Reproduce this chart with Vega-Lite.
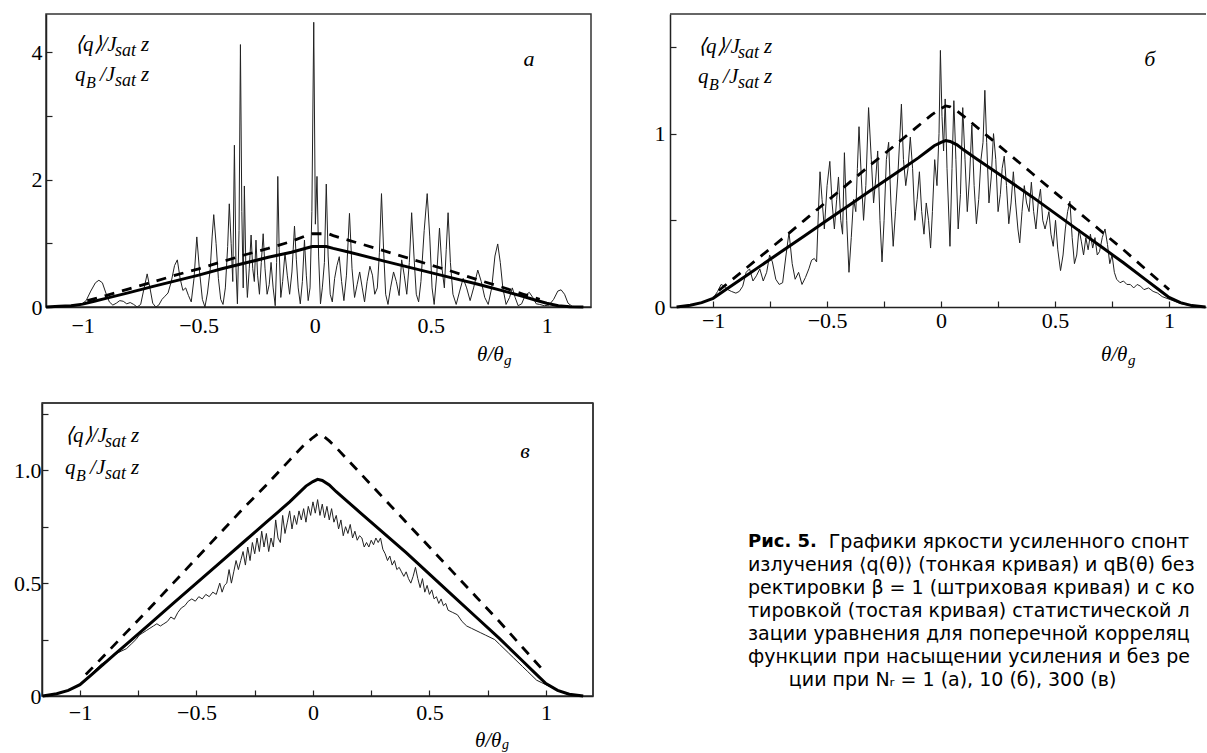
{
"$schema":"https://vega.github.io/schema/vega-lite/v6.json",
"background":"white",
"padding":{"left":0,"top":11,"right":0,"bottom":0},
"autosize":{"type":"pad"},
"config":{"view":{"stroke":null},
"axis":{"grid":false,"labelFont":"Liberation Serif","labelFontSize":22,"labelColor":"#000","domainColor":"#222","domainWidth":1.5,"tickColor":"#222","tickWidth":1.2,"labelOverlap":false,"labelFlush":false},
"text":{"font":"Liberation Serif","color":"#000"}},
"datasets":{
"one":[{}],
"a_q":[{"theta":-1.158,"val":0},{"theta":-1.1,"val":0.005},{"theta":-1.05,"val":0.01},{"theta":-1.01,"val":0.03},{"theta":-0.985,"val":0.1},{"theta":-0.965,"val":0.25},{"theta":-0.945,"val":0.38},{"theta":-0.93,"val":0.42},{"theta":-0.915,"val":0.38},{"theta":-0.9,"val":0.22},{"theta":-0.885,"val":0.08},{"theta":-0.87,"val":0.03},{"theta":-0.855,"val":0.06},{"theta":-0.84,"val":0.1},{"theta":-0.825,"val":0.09},{"theta":-0.81,"val":0.05},{"theta":-0.795,"val":0.07},{"theta":-0.78,"val":0.04},{"theta":-0.765,"val":0},{"theta":-0.75,"val":0.04},{"theta":-0.735,"val":0.3},{"theta":-0.722,"val":0.52},{"theta":-0.71,"val":0.3},{"theta":-0.698,"val":0.06},{"theta":-0.685,"val":0},{"theta":-0.672,"val":0.03},{"theta":-0.658,"val":0.12},{"theta":-0.645,"val":0.17},{"theta":-0.632,"val":0.22},{"theta":-0.618,"val":0.4},{"theta":-0.604,"val":0.65},{"theta":-0.592,"val":0.74},{"theta":-0.58,"val":0.45},{"theta":-0.568,"val":0.26},{"theta":-0.556,"val":0.3},{"theta":-0.544,"val":0.18},{"theta":-0.532,"val":0.08},{"theta":-0.52,"val":0.45},{"theta":-0.508,"val":1.1},{"theta":-0.496,"val":0.55},{"theta":-0.484,"val":0.12},{"theta":-0.473,"val":0},{"theta":-0.462,"val":0.22},{"theta":-0.45,"val":0.6},{"theta":-0.442,"val":1.1},{"theta":-0.435,"val":1.45},{"theta":-0.425,"val":1},{"theta":-0.415,"val":0.45},{"theta":-0.405,"val":0.12},{"theta":-0.395,"val":0.04},{"theta":-0.385,"val":0.3},{"theta":-0.375,"val":0.95},{"theta":-0.368,"val":1.62},{"theta":-0.36,"val":1},{"theta":-0.353,"val":0.4},{"theta":-0.346,"val":2.54},{"theta":-0.339,"val":0.6},{"theta":-0.333,"val":0.05},{"theta":-0.326,"val":1.2},{"theta":-0.32,"val":4.12},{"theta":-0.314,"val":1.5},{"theta":-0.308,"val":0.3},{"theta":-0.303,"val":1.9},{"theta":-0.297,"val":0.7},{"theta":-0.29,"val":0.15},{"theta":-0.282,"val":0.6},{"theta":-0.274,"val":1.13},{"theta":-0.267,"val":0.6},{"theta":-0.26,"val":0.4},{"theta":-0.253,"val":1.05},{"theta":-0.246,"val":0.5},{"theta":-0.238,"val":0.2},{"theta":-0.23,"val":0.7},{"theta":-0.222,"val":1.15},{"theta":-0.214,"val":0.6},{"theta":-0.205,"val":0.2},{"theta":-0.196,"val":0.35},{"theta":-0.188,"val":0.7},{"theta":-0.179,"val":0.3},{"theta":-0.17,"val":0.02},{"theta":-0.164,"val":0.7},{"theta":-0.159,"val":2.05},{"theta":-0.153,"val":0.9},{"theta":-0.146,"val":0.15},{"theta":-0.138,"val":0.4},{"theta":-0.128,"val":0.85},{"theta":-0.118,"val":0.5},{"theta":-0.108,"val":0.2},{"theta":-0.098,"val":0.55},{"theta":-0.087,"val":1.27},{"theta":-0.079,"val":0.75},{"theta":-0.071,"val":0.3},{"theta":-0.062,"val":0.05},{"theta":-0.053,"val":0.4},{"theta":-0.044,"val":1.05},{"theta":-0.036,"val":0.5},{"theta":-0.028,"val":0.1},{"theta":-0.02,"val":0.3},{"theta":-0.012,"val":1.5},{"theta":-0.004,"val":4.47},{"theta":0.003,"val":1.3},{"theta":0.01,"val":2.05},{"theta":0.017,"val":0.8},{"theta":0.025,"val":0.05},{"theta":0.033,"val":0.3},{"theta":0.042,"val":0.7},{"theta":0.05,"val":1.93},{"theta":0.058,"val":0.8},{"theta":0.067,"val":0.2},{"theta":0.076,"val":0.08},{"theta":0.086,"val":0.45},{"theta":0.096,"val":0.65},{"theta":0.106,"val":0.79},{"theta":0.116,"val":0.4},{"theta":0.126,"val":0.1},{"theta":0.137,"val":0.5},{"theta":0.15,"val":1.47},{"theta":0.161,"val":0.6},{"theta":0.172,"val":0.15},{"theta":0.183,"val":0.35},{"theta":0.194,"val":0.55},{"theta":0.205,"val":0.3},{"theta":0.215,"val":0.08},{"theta":0.226,"val":0.4},{"theta":0.238,"val":0.64},{"theta":0.249,"val":0.5},{"theta":0.259,"val":0.2},{"theta":0.27,"val":0.3},{"theta":0.279,"val":0.85},{"theta":0.288,"val":1.78},{"theta":0.297,"val":0.9},{"theta":0.306,"val":0.2},{"theta":0.316,"val":0.04},{"theta":0.327,"val":0.3},{"theta":0.34,"val":0.55},{"theta":0.352,"val":0.4},{"theta":0.364,"val":0.18},{"theta":0.375,"val":0.74},{"theta":0.386,"val":0.5},{"theta":0.397,"val":0.2},{"theta":0.408,"val":0.7},{"theta":0.418,"val":1.48},{"theta":0.428,"val":0.8},{"theta":0.438,"val":0.2},{"theta":0.448,"val":0.08},{"theta":0.458,"val":0.4},{"theta":0.472,"val":1.2},{"theta":0.485,"val":1.78},{"theta":0.496,"val":1.1},{"theta":0.506,"val":0.3},{"theta":0.515,"val":0.04},{"theta":0.526,"val":0.5},{"theta":0.538,"val":1.24},{"theta":0.549,"val":0.6},{"theta":0.559,"val":0.3},{"theta":0.567,"val":0.9},{"theta":0.575,"val":1.48},{"theta":0.585,"val":0.7},{"theta":0.596,"val":0.2},{"theta":0.61,"val":0.04},{"theta":0.625,"val":0.25},{"theta":0.64,"val":0.45},{"theta":0.655,"val":0.3},{"theta":0.67,"val":0.1},{"theta":0.685,"val":0.3},{"theta":0.703,"val":0.58},{"theta":0.718,"val":0.4},{"theta":0.733,"val":0.15},{"theta":0.748,"val":0.04},{"theta":0.763,"val":0.3},{"theta":0.777,"val":0.8},{"theta":0.789,"val":0.99},{"theta":0.8,"val":0.7},{"theta":0.811,"val":0.3},{"theta":0.825,"val":0.04},{"theta":0.84,"val":0.15},{"theta":0.852,"val":0.3},{"theta":0.864,"val":0.15},{"theta":0.877,"val":0.02},{"theta":0.892,"val":0.05},{"theta":0.907,"val":0.18},{"theta":0.925,"val":0.23},{"theta":0.94,"val":0.15},{"theta":0.955,"val":0.05},{"theta":0.97,"val":0.04},{"theta":0.99,"val":0.02},{"theta":1.01,"val":0.03},{"theta":1.03,"val":0.12},{"theta":1.048,"val":0.25},{"theta":1.062,"val":0.27},{"theta":1.077,"val":0.2},{"theta":1.092,"val":0.06},{"theta":1.11,"val":0.01},{"theta":1.158,"val":0}],
"a_qb":[{"theta":-0.98,"val":0.1},{"theta":-0.9,"val":0.18},{"theta":-0.8,"val":0.285},{"theta":-0.7,"val":0.39},{"theta":-0.6,"val":0.5},{"theta":-0.5,"val":0.6},{"theta":-0.4,"val":0.71},{"theta":-0.3,"val":0.82},{"theta":-0.2,"val":0.92},{"theta":-0.1,"val":1.03},{"theta":-0.03,"val":1.13},{"theta":-0.01,"val":1.15},{"theta":0.06,"val":1.15},{"theta":0.08,"val":1.12},{"theta":0.2,"val":0.99},{"theta":0.3,"val":0.88},{"theta":0.4,"val":0.77},{"theta":0.5,"val":0.66},{"theta":0.6,"val":0.55},{"theta":0.7,"val":0.43},{"theta":0.8,"val":0.32},{"theta":0.9,"val":0.2},{"theta":0.97,"val":0.12}],
"a_c":[{"theta":-1.158,"val":0},{"theta":-1.1,"val":0.01},{"theta":-1.05,"val":0.02},{"theta":-1,"val":0.045},{"theta":-0.95,"val":0.09},{"theta":-0.9,"val":0.135},{"theta":-0.8,"val":0.225},{"theta":-0.7,"val":0.32},{"theta":-0.6,"val":0.41},{"theta":-0.5,"val":0.5},{"theta":-0.4,"val":0.6},{"theta":-0.3,"val":0.69},{"theta":-0.2,"val":0.78},{"theta":-0.1,"val":0.86},{"theta":-0.03,"val":0.93},{"theta":-0.01,"val":0.95},{"theta":0.05,"val":0.95},{"theta":0.08,"val":0.92},{"theta":0.15,"val":0.86},{"theta":0.3,"val":0.72},{"theta":0.4,"val":0.63},{"theta":0.5,"val":0.54},{"theta":0.6,"val":0.45},{"theta":0.7,"val":0.36},{"theta":0.8,"val":0.265},{"theta":0.9,"val":0.165},{"theta":0.95,"val":0.11},{"theta":1,"val":0.06},{"theta":1.05,"val":0.02},{"theta":1.1,"val":0.005},{"theta":1.158,"val":0}],
"a_txt":[{"theta":-1.033,"val":4.113,"txt":"⟨q⟩/J","k":"main"},{"theta":-1.033,"val":4.113,"txt":"sat","k":"sub"},{"theta":-1.033,"val":4.113,"txt":"z","k":"z"},{"theta":-1.033,"val":3.642,"txt":"q","k":"main"},{"theta":-1.033,"val":3.642,"txt":"B","k":"B"},{"theta":-1.033,"val":3.642,"txt":"/J","k":"J"},{"theta":-1.033,"val":3.642,"txt":"sat","k":"sub"},{"theta":-1.033,"val":3.642,"txt":"z","k":"z"},{"theta":0.924,"val":3.894,"txt":"а","k":"let"},{"theta":0.7,"val":-0.753,"txt":"θ/θ","k":"main"},{"theta":0.7,"val":-0.753,"txt":"g","k":"g"}],
"b_q":[{"theta":-1.16,"val":0},{"theta":-1.1,"val":0.01},{"theta":-1.05,"val":0.025},{"theta":-1,"val":0.05},{"theta":-0.98,"val":0.09},{"theta":-0.965,"val":0.13},{"theta":-0.95,"val":0.12},{"theta":-0.935,"val":0.1},{"theta":-0.92,"val":0.09},{"theta":-0.9,"val":0.08},{"theta":-0.885,"val":0.09},{"theta":-0.87,"val":0.12},{"theta":-0.855,"val":0.2},{"theta":-0.84,"val":0.22},{"theta":-0.825,"val":0.15},{"theta":-0.81,"val":0.18},{"theta":-0.795,"val":0.22},{"theta":-0.78,"val":0.15},{"theta":-0.765,"val":0.2},{"theta":-0.752,"val":0.3},{"theta":-0.74,"val":0.26},{"theta":-0.725,"val":0.16},{"theta":-0.71,"val":0.13},{"theta":-0.695,"val":0.14},{"theta":-0.68,"val":0.3},{"theta":-0.667,"val":0.43},{"theta":-0.653,"val":0.25},{"theta":-0.64,"val":0.16},{"theta":-0.625,"val":0.2},{"theta":-0.61,"val":0.13},{"theta":-0.595,"val":0.17},{"theta":-0.58,"val":0.22},{"theta":-0.568,"val":0.27},{"theta":-0.556,"val":0.28},{"theta":-0.546,"val":0.26},{"theta":-0.538,"val":0.55},{"theta":-0.531,"val":0.78},{"theta":-0.522,"val":0.62},{"theta":-0.512,"val":0.45},{"theta":-0.5,"val":0.7},{"theta":-0.488,"val":0.84},{"theta":-0.478,"val":0.6},{"theta":-0.468,"val":0.45},{"theta":-0.458,"val":0.62},{"theta":-0.45,"val":0.75},{"theta":-0.44,"val":0.5},{"theta":-0.432,"val":0.42},{"theta":-0.424,"val":0.89},{"theta":-0.414,"val":0.5},{"theta":-0.404,"val":0.2},{"theta":-0.394,"val":0.4},{"theta":-0.384,"val":0.62},{"theta":-0.374,"val":0.55},{"theta":-0.367,"val":0.8},{"theta":-0.36,"val":1.04},{"theta":-0.35,"val":0.75},{"theta":-0.34,"val":0.5},{"theta":-0.33,"val":0.7},{"theta":-0.318,"val":1.15},{"theta":-0.306,"val":0.85},{"theta":-0.296,"val":0.6},{"theta":-0.286,"val":0.75},{"theta":-0.278,"val":0.9},{"theta":-0.268,"val":0.5},{"theta":-0.259,"val":0.26},{"theta":-0.25,"val":0.5},{"theta":-0.24,"val":0.85},{"theta":-0.23,"val":0.95},{"theta":-0.22,"val":0.6},{"theta":-0.21,"val":0.35},{"theta":-0.2,"val":0.55},{"theta":-0.19,"val":0.75},{"theta":-0.182,"val":0.95},{"theta":-0.174,"val":1.17},{"theta":-0.165,"val":0.85},{"theta":-0.155,"val":0.7},{"theta":-0.145,"val":0.8},{"theta":-0.135,"val":0.98},{"theta":-0.125,"val":0.8},{"theta":-0.115,"val":0.5},{"theta":-0.105,"val":0.62},{"theta":-0.095,"val":0.78},{"theta":-0.085,"val":0.55},{"theta":-0.075,"val":0.42},{"theta":-0.065,"val":0.6},{"theta":-0.055,"val":0.5},{"theta":-0.046,"val":0.34},{"theta":-0.038,"val":0.55},{"theta":-0.028,"val":0.85},{"theta":-0.018,"val":0.7},{"theta":-0.009,"val":1},{"theta":-0.003,"val":1.48},{"theta":0.004,"val":1.1},{"theta":0.011,"val":0.9},{"theta":0.018,"val":1.2},{"theta":0.026,"val":0.8},{"theta":0.039,"val":0.35},{"theta":0.048,"val":0.8},{"theta":0.056,"val":1.19},{"theta":0.065,"val":0.85},{"theta":0.075,"val":0.45},{"theta":0.085,"val":0.65},{"theta":0.095,"val":1.15},{"theta":0.105,"val":0.85},{"theta":0.115,"val":0.55},{"theta":0.125,"val":0.75},{"theta":0.135,"val":1.05},{"theta":0.145,"val":0.7},{"theta":0.155,"val":0.48},{"theta":0.165,"val":0.62},{"theta":0.175,"val":0.85},{"theta":0.184,"val":0.95},{"theta":0.192,"val":1.25},{"theta":0.2,"val":0.95},{"theta":0.21,"val":0.6},{"theta":0.22,"val":0.75},{"theta":0.23,"val":1},{"theta":0.24,"val":0.85},{"theta":0.25,"val":0.55},{"theta":0.26,"val":0.65},{"theta":0.268,"val":0.8},{"theta":0.277,"val":0.87},{"theta":0.287,"val":0.7},{"theta":0.297,"val":0.48},{"theta":0.307,"val":0.6},{"theta":0.317,"val":0.78},{"theta":0.327,"val":0.6},{"theta":0.337,"val":0.45},{"theta":0.345,"val":0.37},{"theta":0.355,"val":0.55},{"theta":0.365,"val":0.7},{"theta":0.375,"val":0.6},{"theta":0.386,"val":0.55},{"theta":0.396,"val":0.72},{"theta":0.406,"val":0.55},{"theta":0.416,"val":0.45},{"theta":0.426,"val":0.6},{"theta":0.436,"val":0.68},{"theta":0.446,"val":0.5},{"theta":0.456,"val":0.45},{"theta":0.465,"val":0.5},{"theta":0.473,"val":0.55},{"theta":0.482,"val":0.42},{"theta":0.492,"val":0.35},{"theta":0.502,"val":0.5},{"theta":0.512,"val":0.33},{"theta":0.524,"val":0.21},{"theta":0.535,"val":0.3},{"theta":0.545,"val":0.45},{"theta":0.555,"val":0.55},{"theta":0.565,"val":0.61},{"theta":0.575,"val":0.4},{"theta":0.585,"val":0.25},{"theta":0.595,"val":0.3},{"theta":0.605,"val":0.45},{"theta":0.615,"val":0.38},{"theta":0.625,"val":0.3},{"theta":0.635,"val":0.4},{"theta":0.645,"val":0.33},{"theta":0.655,"val":0.42},{"theta":0.665,"val":0.34},{"theta":0.675,"val":0.4},{"theta":0.685,"val":0.3},{"theta":0.695,"val":0.32},{"theta":0.707,"val":0.4},{"theta":0.719,"val":0.45},{"theta":0.73,"val":0.36},{"theta":0.74,"val":0.25},{"theta":0.75,"val":0.3},{"theta":0.76,"val":0.2},{"theta":0.77,"val":0.16},{"theta":0.785,"val":0.14},{"theta":0.8,"val":0.15},{"theta":0.815,"val":0.13},{"theta":0.83,"val":0.13},{"theta":0.845,"val":0.11},{"theta":0.86,"val":0.13},{"theta":0.875,"val":0.12},{"theta":0.89,"val":0.1},{"theta":0.91,"val":0.11},{"theta":0.93,"val":0.09},{"theta":0.95,"val":0.08},{"theta":0.97,"val":0.06},{"theta":1,"val":0.045},{"theta":1.05,"val":0.02},{"theta":1.1,"val":0.006},{"theta":1.16,"val":0}],
"b_txt":[{"theta":-1.066,"val":1.5,"txt":"⟨q⟩/J","k":"main"},{"theta":-1.066,"val":1.5,"txt":"sat","k":"sub"},{"theta":-1.066,"val":1.5,"txt":"z","k":"z"},{"theta":-1.066,"val":1.327,"txt":"q","k":"main"},{"theta":-1.066,"val":1.327,"txt":"B","k":"B"},{"theta":-1.066,"val":1.327,"txt":"/J","k":"J"},{"theta":-1.066,"val":1.327,"txt":"sat","k":"sub"},{"theta":-1.066,"val":1.327,"txt":"z","k":"z"},{"theta":0.915,"val":1.43,"txt":"б","k":"let"},{"theta":0.701,"val":-0.277,"txt":"θ/θ","k":"main"},{"theta":0.701,"val":-0.277,"txt":"g","k":"g"}],
"b_top":[{"theta":-1.189,"val":1.69},{"theta":1.162,"val":1.69}],
"b_ext":[{"theta":-1.189,"val":-0.455},{"theta":1.162,"val":-0.455}],
"c_top":[{"theta":-1.163,"val":1.298},{"theta":1.202,"val":1.298}],
"c_right":[{"theta":1.202,"val":0},{"theta":1.202,"val":1.298}],
"qb":[{"theta":-0.975,"val":0.095},{"theta":-0.9,"val":0.175},{"theta":-0.8,"val":0.283},{"theta":-0.7,"val":0.39},{"theta":-0.6,"val":0.5},{"theta":-0.5,"val":0.61},{"theta":-0.4,"val":0.72},{"theta":-0.3,"val":0.83},{"theta":-0.2,"val":0.935},{"theta":-0.1,"val":1.045},{"theta":-0.04,"val":1.11},{"theta":0,"val":1.145},{"theta":0.02,"val":1.16},{"theta":0.04,"val":1.155},{"theta":0.07,"val":1.13},{"theta":0.1,"val":1.1},{"theta":0.2,"val":0.99},{"theta":0.3,"val":0.88},{"theta":0.4,"val":0.77},{"theta":0.5,"val":0.66},{"theta":0.6,"val":0.55},{"theta":0.7,"val":0.44},{"theta":0.8,"val":0.33},{"theta":0.9,"val":0.215},{"theta":1,"val":0.1}],
"corr":[{"theta":-1.16,"val":0},{"theta":-1.1,"val":0.01},{"theta":-1.05,"val":0.025},{"theta":-1,"val":0.05},{"theta":-0.95,"val":0.095},{"theta":-0.9,"val":0.14},{"theta":-0.85,"val":0.185},{"theta":-0.8,"val":0.23},{"theta":-0.7,"val":0.32},{"theta":-0.6,"val":0.41},{"theta":-0.5,"val":0.5},{"theta":-0.4,"val":0.59},{"theta":-0.3,"val":0.68},{"theta":-0.2,"val":0.77},{"theta":-0.15,"val":0.815},{"theta":-0.1,"val":0.86},{"theta":-0.06,"val":0.9},{"theta":-0.03,"val":0.93},{"theta":0,"val":0.95},{"theta":0.02,"val":0.96},{"theta":0.04,"val":0.955},{"theta":0.07,"val":0.935},{"theta":0.1,"val":0.905},{"theta":0.15,"val":0.86},{"theta":0.2,"val":0.815},{"theta":0.3,"val":0.725},{"theta":0.4,"val":0.635},{"theta":0.5,"val":0.54},{"theta":0.6,"val":0.445},{"theta":0.7,"val":0.35},{"theta":0.8,"val":0.255},{"theta":0.9,"val":0.155},{"theta":0.95,"val":0.105},{"theta":1,"val":0.055},{"theta":1.05,"val":0.025},{"theta":1.1,"val":0.008},{"theta":1.16,"val":0}],
"c_q":[{"theta":-1.15,"val":0},{"theta":-1.1,"val":0.01},{"theta":-1.05,"val":0.025},{"theta":-1,"val":0.05},{"theta":-0.97,"val":0.08},{"theta":-0.94,"val":0.11},{"theta":-0.91,"val":0.14},{"theta":-0.88,"val":0.16},{"theta":-0.86,"val":0.175},{"theta":-0.84,"val":0.19},{"theta":-0.82,"val":0.2},{"theta":-0.8,"val":0.21},{"theta":-0.78,"val":0.23},{"theta":-0.76,"val":0.25},{"theta":-0.745,"val":0.27},{"theta":-0.73,"val":0.28},{"theta":-0.715,"val":0.29},{"theta":-0.7,"val":0.3},{"theta":-0.685,"val":0.31},{"theta":-0.67,"val":0.32},{"theta":-0.655,"val":0.31},{"theta":-0.64,"val":0.32},{"theta":-0.625,"val":0.33},{"theta":-0.61,"val":0.35},{"theta":-0.595,"val":0.34},{"theta":-0.58,"val":0.37},{"theta":-0.565,"val":0.39},{"theta":-0.55,"val":0.4},{"theta":-0.535,"val":0.42},{"theta":-0.52,"val":0.43},{"theta":-0.505,"val":0.42},{"theta":-0.49,"val":0.44},{"theta":-0.475,"val":0.43},{"theta":-0.46,"val":0.45},{"theta":-0.445,"val":0.44},{"theta":-0.43,"val":0.46},{"theta":-0.415,"val":0.45},{"theta":-0.4,"val":0.5},{"theta":-0.39,"val":0.46},{"theta":-0.38,"val":0.49},{"theta":-0.37,"val":0.5},{"theta":-0.36,"val":0.56},{"theta":-0.35,"val":0.5},{"theta":-0.34,"val":0.55},{"theta":-0.33,"val":0.6},{"theta":-0.32,"val":0.56},{"theta":-0.31,"val":0.6},{"theta":-0.3,"val":0.64},{"theta":-0.29,"val":0.58},{"theta":-0.28,"val":0.66},{"theta":-0.27,"val":0.6},{"theta":-0.26,"val":0.68},{"theta":-0.25,"val":0.63},{"theta":-0.24,"val":0.7},{"theta":-0.23,"val":0.64},{"theta":-0.22,"val":0.73},{"theta":-0.21,"val":0.66},{"theta":-0.2,"val":0.72},{"theta":-0.19,"val":0.64},{"theta":-0.18,"val":0.7},{"theta":-0.17,"val":0.66},{"theta":-0.16,"val":0.78},{"theta":-0.15,"val":0.7},{"theta":-0.14,"val":0.68},{"theta":-0.13,"val":0.8},{"theta":-0.12,"val":0.72},{"theta":-0.11,"val":0.77},{"theta":-0.1,"val":0.82},{"theta":-0.09,"val":0.74},{"theta":-0.08,"val":0.8},{"theta":-0.07,"val":0.76},{"theta":-0.06,"val":0.82},{"theta":-0.05,"val":0.78},{"theta":-0.04,"val":0.83},{"theta":-0.03,"val":0.77},{"theta":-0.02,"val":0.84},{"theta":-0.01,"val":0.8},{"theta":0,"val":0.86},{"theta":0.01,"val":0.81},{"theta":0.02,"val":0.87},{"theta":0.03,"val":0.8},{"theta":0.04,"val":0.85},{"theta":0.05,"val":0.79},{"theta":0.06,"val":0.84},{"theta":0.07,"val":0.78},{"theta":0.08,"val":0.83},{"theta":0.09,"val":0.77},{"theta":0.1,"val":0.8},{"theta":0.11,"val":0.74},{"theta":0.12,"val":0.78},{"theta":0.13,"val":0.71},{"theta":0.14,"val":0.75},{"theta":0.15,"val":0.72},{"theta":0.16,"val":0.76},{"theta":0.17,"val":0.7},{"theta":0.18,"val":0.73},{"theta":0.19,"val":0.69},{"theta":0.2,"val":0.71},{"theta":0.21,"val":0.7},{"theta":0.22,"val":0.66},{"theta":0.23,"val":0.68},{"theta":0.24,"val":0.66},{"theta":0.25,"val":0.69},{"theta":0.26,"val":0.67},{"theta":0.27,"val":0.7},{"theta":0.28,"val":0.68},{"theta":0.29,"val":0.7},{"theta":0.3,"val":0.65},{"theta":0.31,"val":0.63},{"theta":0.32,"val":0.6},{"theta":0.33,"val":0.62},{"theta":0.34,"val":0.58},{"theta":0.35,"val":0.6},{"theta":0.36,"val":0.56},{"theta":0.37,"val":0.57},{"theta":0.38,"val":0.55},{"theta":0.39,"val":0.53},{"theta":0.4,"val":0.55},{"theta":0.41,"val":0.52},{"theta":0.42,"val":0.5},{"theta":0.43,"val":0.53},{"theta":0.44,"val":0.57},{"theta":0.45,"val":0.52},{"theta":0.46,"val":0.48},{"theta":0.47,"val":0.52},{"theta":0.48,"val":0.46},{"theta":0.49,"val":0.49},{"theta":0.5,"val":0.45},{"theta":0.51,"val":0.47},{"theta":0.52,"val":0.43},{"theta":0.53,"val":0.44},{"theta":0.54,"val":0.41},{"theta":0.55,"val":0.43},{"theta":0.56,"val":0.4},{"theta":0.57,"val":0.41},{"theta":0.58,"val":0.38},{"theta":0.6,"val":0.37},{"theta":0.62,"val":0.36},{"theta":0.64,"val":0.33},{"theta":0.66,"val":0.31},{"theta":0.68,"val":0.3},{"theta":0.7,"val":0.29},{"theta":0.72,"val":0.28},{"theta":0.74,"val":0.27},{"theta":0.76,"val":0.26},{"theta":0.78,"val":0.25},{"theta":0.8,"val":0.23},{"theta":0.82,"val":0.21},{"theta":0.84,"val":0.19},{"theta":0.86,"val":0.17},{"theta":0.88,"val":0.15},{"theta":0.9,"val":0.13},{"theta":0.92,"val":0.11},{"theta":0.94,"val":0.09},{"theta":0.96,"val":0.07},{"theta":0.98,"val":0.06},{"theta":1,"val":0.05},{"theta":1.05,"val":0.025},{"theta":1.1,"val":0.008},{"theta":1.15,"val":0}],
"c_txt":[{"theta":-1.064,"val":1.152,"txt":"⟨q⟩/J","k":"main"},{"theta":-1.064,"val":1.152,"txt":"sat","k":"sub"},{"theta":-1.064,"val":1.152,"txt":"z","k":"z"},{"theta":-1.064,"val":1.01,"txt":"q","k":"main"},{"theta":-1.064,"val":1.01,"txt":"B","k":"B"},{"theta":-1.064,"val":1.01,"txt":"/J","k":"J"},{"theta":-1.064,"val":1.01,"txt":"sat","k":"sub"},{"theta":-1.064,"val":1.01,"txt":"z","k":"z"},{"theta":0.91,"val":1.085,"txt":"в","k":"let"},{"theta":0.695,"val":-0.2,"txt":"θ/θ","k":"main"},{"theta":0.695,"val":-0.2,"txt":"g","k":"g"}],
"caption":[{"line":0,"part":"head","txt":"Рис. 5."},{"line":0,"part":"body","txt":"Графики яркости усиленного спонтанного"},{"line":1,"part":"line","txt":"излучения ⟨q(θ)⟩ (тонкая кривая) и qB(θ) без кор-"},{"line":2,"part":"line","txt":"ректировки β = 1 (штриховая кривая) и с коррек-"},{"line":3,"part":"line","txt":"тировкой (тостая кривая) статистической линеари-"},{"line":4,"part":"line","txt":"зации уравнения для поперечной корреляционной"},{"line":5,"part":"line","txt":"функции при насыщении усиления и без релакса-"},{"line":6,"part":"last","txt":"ции при Nᵣ = 1 (а), 10 (б), 300 (в)"}]
},
"spacing":13,
"vconcat":[
{"hconcat":[
{"width":4,"height":10,"data":{"name":"one"},"mark":{"type":"point","opacity":0}},
{"width":545,"height":293,"view":{"stroke":"#333","strokeWidth":1.5},
"encoding":{"x":{"field":"theta","type":"quantitative","title":null,"scale":{"domain":[-1.158,1.191],"nice":false,"zero":false},"axis":{"values":[-1,-0.5,0,0.5,1],"ticks":false,"labelPadding":8,"labelExpr":"datum.value==0?'0':datum.value==1?'1':datum.value==-1?'−1':datum.value==0.5?'0.5':datum.value==-0.5?'−0.5':''"}},
"y":{"field":"val","type":"quantitative","title":null,"scale":{"domain":[0,4.6],"nice":false,"zero":false},"axis":{"values":[0,1,2,3,4],"tickSize":-6,"labelPadding":10,"labelExpr":"datum.value==0?'0':datum.value==2?'2':datum.value==4?'4':''"}}},
"layer":[
{"data":{"name":"a_q"},"mark":{"type":"line","strokeWidth":1,"color":"#222","clip":true}},
{"data":{"name":"a_qb"},"mark":{"type":"line","strokeWidth":2.8,"strokeDash":[10,8],"color":"#000"}},
{"data":{"name":"a_c"},"mark":{"type":"line","strokeWidth":3,"color":"#000"}},
{"data":{"name":"a_txt"},"transform":[{"filter":"datum.k=='main'"}],"mark":{"type":"text","fontStyle":"italic","fontSize":21,"align":"left","baseline":"middle"},"encoding":{"text":{"field":"txt"}}},
{"data":{"name":"a_txt"},"transform":[{"filter":"datum.k=='sub'"}],"mark":{"type":"text","fontStyle":"italic","fontSize":18,"align":"left","baseline":"middle","dx":40,"dy":6},"encoding":{"text":{"field":"txt"}}},
{"data":{"name":"a_txt"},"transform":[{"filter":"datum.k=='z'"}],"mark":{"type":"text","fontStyle":"italic","fontSize":21,"align":"left","baseline":"middle","dx":66},"encoding":{"text":{"field":"txt"}}},
{"data":{"name":"a_txt"},"transform":[{"filter":"datum.k=='B'"}],"mark":{"type":"text","fontStyle":"italic","fontSize":16,"align":"left","baseline":"middle","dx":11,"dy":8},"encoding":{"text":{"field":"txt"}}},
{"data":{"name":"a_txt"},"transform":[{"filter":"datum.k=='J'"}],"mark":{"type":"text","fontStyle":"italic","fontSize":21,"align":"left","baseline":"middle","dx":25},"encoding":{"text":{"field":"txt"}}},
{"data":{"name":"a_txt"},"transform":[{"filter":"datum.k=='let'"}],"mark":{"type":"text","fontStyle":"italic","fontSize":22,"align":"center","baseline":"middle"},"encoding":{"text":{"field":"txt"}}},
{"data":{"name":"a_txt"},"transform":[{"filter":"datum.k=='g'"}],"mark":{"type":"text","fontStyle":"italic","fontSize":15,"align":"left","baseline":"middle","dx":27,"dy":5},"encoding":{"text":{"field":"txt"}}}
]},
{"width":79,"height":10,"data":{"name":"one"},"mark":{"type":"point","opacity":0}},
{"width":536,"height":293,
"encoding":{"x":{"field":"theta","type":"quantitative","title":null,"scale":{"domain":[-1.189,1.162],"nice":false,"zero":false},"axis":{"values":[-1,-0.75,-0.5,-0.25,0,0.25,0.5,0.75,1],"tickSize":-6,"labelPadding":9,"labelExpr":"datum.value==0?'0':datum.value==1?'1':datum.value==-1?'−1':datum.value==0.5?'0.5':datum.value==-0.5?'−0.5':''"}},
"y":{"field":"val","type":"quantitative","title":null,"scale":{"domain":[0,1.69],"nice":false,"zero":false},"axis":{"values":[0,0.5,1,1.5],"tickSize":-6,"labelPadding":11,"labelExpr":"datum.value==0?'0':datum.value==1?'1':''"}}},
"layer":[
{"data":{"name":"b_q"},"mark":{"type":"line","strokeWidth":1,"color":"#222","clip":true}},
{"data":{"name":"qb"},"mark":{"type":"line","strokeWidth":2.8,"strokeDash":[10,8],"color":"#000"}},
{"data":{"name":"corr"},"mark":{"type":"line","strokeWidth":3,"color":"#000"}},
{"data":{"name":"b_top"},"mark":{"type":"line","strokeWidth":1.5,"color":"#333"}},
{"data":{"name":"b_ext"},"mark":{"type":"line","strokeWidth":1,"color":"#fff","opacity":0}},
{"data":{"name":"b_txt"},"transform":[{"filter":"datum.k=='main'"}],"mark":{"type":"text","fontStyle":"italic","fontSize":21,"align":"left","baseline":"middle"},"encoding":{"text":{"field":"txt"}}},
{"data":{"name":"b_txt"},"transform":[{"filter":"datum.k=='sub'"}],"mark":{"type":"text","fontStyle":"italic","fontSize":18,"align":"left","baseline":"middle","dx":40,"dy":6},"encoding":{"text":{"field":"txt"}}},
{"data":{"name":"b_txt"},"transform":[{"filter":"datum.k=='z'"}],"mark":{"type":"text","fontStyle":"italic","fontSize":21,"align":"left","baseline":"middle","dx":66},"encoding":{"text":{"field":"txt"}}},
{"data":{"name":"b_txt"},"transform":[{"filter":"datum.k=='B'"}],"mark":{"type":"text","fontStyle":"italic","fontSize":16,"align":"left","baseline":"middle","dx":11,"dy":8},"encoding":{"text":{"field":"txt"}}},
{"data":{"name":"b_txt"},"transform":[{"filter":"datum.k=='J'"}],"mark":{"type":"text","fontStyle":"italic","fontSize":21,"align":"left","baseline":"middle","dx":25},"encoding":{"text":{"field":"txt"}}},
{"data":{"name":"b_txt"},"transform":[{"filter":"datum.k=='let'"}],"mark":{"type":"text","fontStyle":"italic","fontSize":22,"align":"center","baseline":"middle"},"encoding":{"text":{"field":"txt"}}},
{"data":{"name":"b_txt"},"transform":[{"filter":"datum.k=='g'"}],"mark":{"type":"text","fontStyle":"italic","fontSize":15,"align":"left","baseline":"middle","dx":27,"dy":5},"encoding":{"text":{"field":"txt"}}}
]}
],"spacing":0,"bounds":"flush"},
{"hconcat":[
{"width":551,"height":293,"view":{"stroke":"#333","strokeWidth":1.5},
"encoding":{"x":{"field":"theta","type":"quantitative","title":null,"scale":{"domain":[-1.163,1.202],"nice":false,"zero":false},"axis":{"values":[-1,-0.75,-0.5,-0.25,0,0.25,0.5,0.75,1],"tickSize":-6,"labelPadding":12,"labelExpr":"datum.value==0?'0':datum.value==1?'1':datum.value==-1?'−1':datum.value==0.5?'0.5':datum.value==-0.5?'−0.5':''"}},
"y":{"field":"val","type":"quantitative","title":null,"scale":{"domain":[0,1.298],"nice":false,"zero":false},"axis":{"values":[0,0.25,0.5,0.75,1,1.25],"tickSize":-6,"labelPadding":7,"minExtent":41,"maxExtent":41,"labelExpr":"datum.value==0?'0':datum.value==0.5?'0.5':datum.value==1?'1.0':''"}}},
"layer":[
{"data":{"name":"c_q"},"mark":{"type":"line","strokeWidth":1,"color":"#222","clip":true}},
{"data":{"name":"qb"},"mark":{"type":"line","strokeWidth":2.8,"strokeDash":[10,8],"color":"#000"}},
{"data":{"name":"corr"},"mark":{"type":"line","strokeWidth":3,"color":"#000"}},
{"data":{"name":"c_top"},"mark":{"type":"line","strokeWidth":1.5,"color":"#333"}},
{"data":{"name":"c_right"},"mark":{"type":"line","strokeWidth":1.5,"color":"#333"}},
{"data":{"name":"c_txt"},"transform":[{"filter":"datum.k=='main'"}],"mark":{"type":"text","fontStyle":"italic","fontSize":21,"align":"left","baseline":"middle"},"encoding":{"text":{"field":"txt"}}},
{"data":{"name":"c_txt"},"transform":[{"filter":"datum.k=='sub'"}],"mark":{"type":"text","fontStyle":"italic","fontSize":18,"align":"left","baseline":"middle","dx":40,"dy":6},"encoding":{"text":{"field":"txt"}}},
{"data":{"name":"c_txt"},"transform":[{"filter":"datum.k=='z'"}],"mark":{"type":"text","fontStyle":"italic","fontSize":21,"align":"left","baseline":"middle","dx":66},"encoding":{"text":{"field":"txt"}}},
{"data":{"name":"c_txt"},"transform":[{"filter":"datum.k=='B'"}],"mark":{"type":"text","fontStyle":"italic","fontSize":16,"align":"left","baseline":"middle","dx":11,"dy":8},"encoding":{"text":{"field":"txt"}}},
{"data":{"name":"c_txt"},"transform":[{"filter":"datum.k=='J'"}],"mark":{"type":"text","fontStyle":"italic","fontSize":21,"align":"left","baseline":"middle","dx":25},"encoding":{"text":{"field":"txt"}}},
{"data":{"name":"c_txt"},"transform":[{"filter":"datum.k=='let'"}],"mark":{"type":"text","fontStyle":"italic","fontSize":22,"align":"center","baseline":"middle"},"encoding":{"text":{"field":"txt"}}},
{"data":{"name":"c_txt"},"transform":[{"filter":"datum.k=='g'"}],"mark":{"type":"text","fontStyle":"italic","fontSize":14,"align":"left","baseline":"middle","dx":27,"dy":4},"encoding":{"text":{"field":"txt"}}}
]},
{"width":459,"height":293,"data":{"name":"caption"},
"encoding":{"y":{"field":"line","type":"quantitative","scale":{"domain":[-6.043,6.696],"reverse":true,"nice":false,"zero":false},"axis":null},"text":{"field":"txt"}},
"layer":[
{"transform":[{"filter":"datum.part=='head'"}],"mark":{"type":"text","font":"DejaVu Sans","fontSize":18,"fontWeight":"bold","align":"left","baseline":"middle"},"encoding":{"x":{"datum":0,"scale":{"domain":[0,1],"nice":false,"zero":false},"axis":null}}},
{"transform":[{"filter":"datum.part=='body'"}],"mark":{"type":"text","font":"DejaVu Sans","fontSize":19,"align":"left","baseline":"middle","limit":377,"ellipsis":" "},"encoding":{"x":{"datum":0.176,"scale":{"domain":[0,1],"nice":false,"zero":false},"axis":null}}},
{"transform":[{"filter":"datum.part=='line'"}],"mark":{"type":"text","font":"DejaVu Sans","fontSize":19,"align":"left","baseline":"middle","limit":458,"ellipsis":" "},"encoding":{"x":{"datum":0,"scale":{"domain":[0,1],"nice":false,"zero":false},"axis":null}}},
{"transform":[{"filter":"datum.part=='last'"}],"mark":{"type":"text","font":"DejaVu Sans","fontSize":19,"align":"left","baseline":"middle"},"encoding":{"x":{"datum":0.089,"scale":{"domain":[0,1],"nice":false,"zero":false},"axis":null}}}
]}
],"spacing":155,"bounds":"flush"}
]
}
